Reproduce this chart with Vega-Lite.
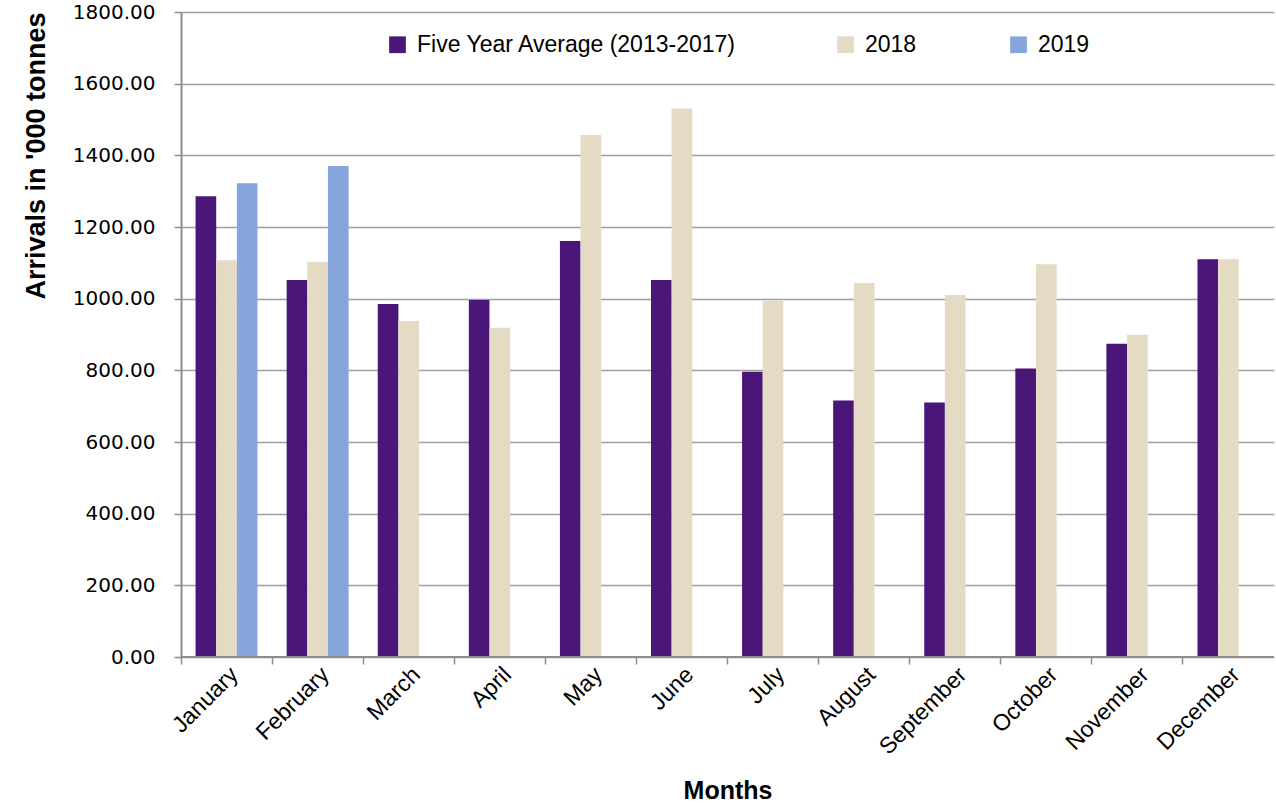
{
  "$schema": "https://vega.github.io/schema/vega-lite/v6.json",
  "width": 1093,
  "height": 645,
  "autosize": {"type": "none"},
  "padding": {"left": 181, "top": 12, "right": 2, "bottom": 152},
  "background": "white",
  "config": {
    "view": {"stroke": null},
    "axis": {"labelColor": "black", "titleColor": "black"}
  },
  "resolve": {"axis": {"x": "independent"}},
  "data": {
    "values": [
      {"month": "January", "series": "Five Year Average  (2013-2017)", "value": 1286},
      {"month": "January", "series": "2018", "value": 1107},
      {"month": "January", "series": "2019", "value": 1322},
      {"month": "February", "series": "Five Year Average  (2013-2017)", "value": 1052},
      {"month": "February", "series": "2018", "value": 1102},
      {"month": "February", "series": "2019", "value": 1370},
      {"month": "March", "series": "Five Year Average  (2013-2017)", "value": 985},
      {"month": "March", "series": "2018", "value": 938},
      {"month": "April", "series": "Five Year Average  (2013-2017)", "value": 996},
      {"month": "April", "series": "2018", "value": 919},
      {"month": "May", "series": "Five Year Average  (2013-2017)", "value": 1161},
      {"month": "May", "series": "2018", "value": 1457},
      {"month": "June", "series": "Five Year Average  (2013-2017)", "value": 1052},
      {"month": "June", "series": "2018", "value": 1531},
      {"month": "July", "series": "Five Year Average  (2013-2017)", "value": 796},
      {"month": "July", "series": "2018", "value": 994},
      {"month": "August", "series": "Five Year Average  (2013-2017)", "value": 716},
      {"month": "August", "series": "2018", "value": 1044},
      {"month": "September", "series": "Five Year Average  (2013-2017)", "value": 710},
      {"month": "September", "series": "2018", "value": 1010},
      {"month": "October", "series": "Five Year Average  (2013-2017)", "value": 805},
      {"month": "October", "series": "2018", "value": 1096},
      {"month": "November", "series": "Five Year Average  (2013-2017)", "value": 874},
      {"month": "November", "series": "2018", "value": 899},
      {"month": "December", "series": "Five Year Average  (2013-2017)", "value": 1110},
      {"month": "December", "series": "2018", "value": 1110}
    ]
  },
  "layer": [
    {
      "mark": {"type": "bar"},
      "encoding": {
        "x": {
          "field": "month",
          "type": "nominal",
          "sort": ["January","February","March","April","May","June","July","August","September","October","November","December"],
          "scale": {"paddingInner": 0.32, "paddingOuter": 0.16},
          "axis": {
            "orient": "bottom",
            "title": "Months",
            "titleFont": "Liberation Sans",
            "titleFontSize": 25,
            "titleFontWeight": "bold",
            "titlePadding": 20,
            "labelFont": "Liberation Sans",
            "labelFontSize": 23,
            "labelAngle": -45,
            "labelAlign": "right",
            "labelBaseline": "top",
            "labelPadding": 6,
            "ticks": false,
            "domain": false
          }
        },
        "xOffset": {
          "field": "series",
          "type": "nominal",
          "sort": ["Five Year Average  (2013-2017)", "2018", "2019"],
          "scale": {"domain": ["Five Year Average  (2013-2017)", "2018", "2019"], "paddingInner": 0, "paddingOuter": 0}
        },
        "y": {
          "field": "value",
          "type": "quantitative",
          "scale": {"domain": [0, 1800]},
          "axis": {
            "title": "Arrivals in '000 tonnes",
            "titleFont": "Liberation Sans",
            "titleFontSize": 27,
            "titleFontWeight": "bold",
            "titleAnchor": "end",
            "titlePadding": 22,
            "values": [0, 200, 400, 600, 800, 1000, 1200, 1400, 1600, 1800],
            "format": ".2f",
            "labelFont": "DejaVu Sans",
            "labelFontSize": 20,
            "labelPadding": 19,
            "tickSize": 7,
            "tickColor": "#8c8c8c",
            "tickWidth": 1.5,
            "domainColor": "#8c8c8c",
            "domainWidth": 2,
            "grid": true,
            "gridColor": "#a0a0a0",
            "gridWidth": 1.5
          }
        },
        "color": {
          "field": "series",
          "type": "nominal",
          "scale": {
            "domain": ["Five Year Average  (2013-2017)", "2018", "2019"],
            "range": ["#4a1677", "#e5dac3", "#86a5dc"]
          },
          "legend": {
            "title": null,
            "orient": "none",
            "direction": "horizontal",
            "legendX": 205,
            "legendY": 21,
            "symbolType": "square",
            "symbolSize": 280,
            "symbolStrokeWidth": 0,
            "labelFont": "Liberation Sans",
            "labelFontSize": 23,
            "labelLimit": 500,
            "columnPadding": 90,
            "labelOffset": 8
          }
        }
      }
    },
    {
      "mark": {"type": "bar", "opacity": 0},
      "encoding": {
        "x": {
          "field": "month",
          "type": "nominal",
          "sort": ["January","February","March","April","May","June","July","August","September","October","November","December"],
          "axis": {
            "orient": "bottom",
            "title": null,
            "labels": false,
            "domain": false,
            "ticks": true,
            "bandPosition": -0.235,
            "tickSize": 7,
            "tickColor": "#8c8c8c",
            "tickWidth": 1.5
          }
        },
        "y": {"field": "value", "type": "quantitative"}
      }
    },
    {
      "mark": {"type": "rule", "color": "#8c8c8c", "strokeWidth": 2},
      "encoding": {"y": {"datum": 0, "type": "quantitative"}}
    }
  ]
}
